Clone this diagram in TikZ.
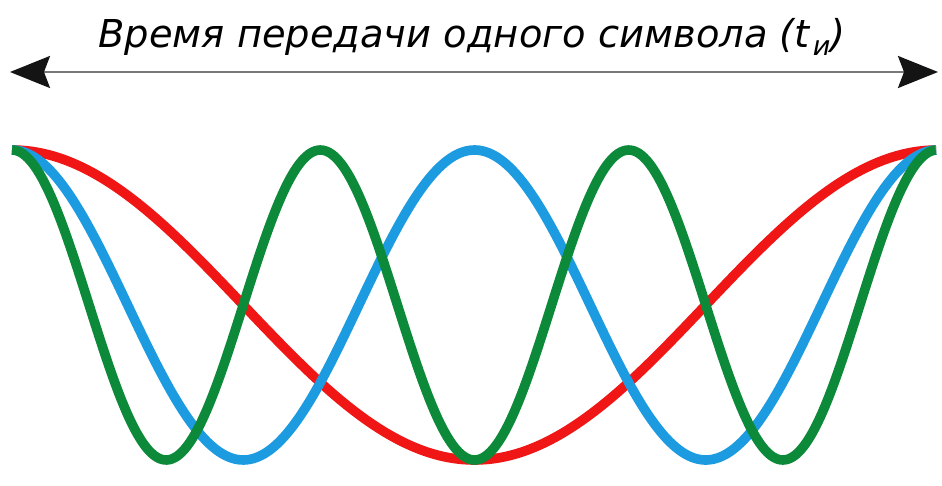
\documentclass[tikz,border=0pt]{standalone}
\usepackage{fontspec}
\setmainfont{DejaVu Sans}
\usetikzlibrary{arrows.meta}
\definecolor{cred}{RGB}{240,22,22}
\definecolor{cblue}{RGB}{28,155,225}
\definecolor{cgreen}{RGB}{12,138,58}
\definecolor{cgray}{RGB}{120,120,120}
\definecolor{chead}{RGB}{20,20,20}
\tikzset{
  wave/.style={line width=4.8pt, line join=round},
  span/.style={draw=cgray, line width=1.1pt,
    {Stealth[length=20pt,width=16pt,inset=3pt,color=chead]}-{Stealth[length=20pt,width=16pt,inset=3pt,color=chead]}},
  title/.style={font=\fontsize{19.2}{21}\selectfont\itshape, text=black, inner sep=0pt, anchor=base}
}
\begin{document}
\begin{tikzpicture}[x=0.5pt,y=-0.5pt]
\useasboundingbox (0,0) rectangle (942,486);
\fill[white] (0,0) rectangle (942,486);
\coordinate (L) at (10,72);
\coordinate (R) at (938,72);
\draw[span] (L) -- (R);
\node[title] (t) at (472,48) {Время передачи одного символа (t\kern1.5pt\raisebox{-4pt}{\fontsize{13.5}{14}\selectfont и})};
\draw[wave, cred] plot[domain=0:1, samples=200] ({12+925*\x}, {305-155*cos(360*\x)});
\draw[wave, cblue] plot[domain=0:1, samples=300] ({12+925*\x}, {305-155*cos(720*\x)});
\draw[wave, cgreen] plot[domain=0:1, samples=400] ({12+925*\x}, {305-155*cos(1080*\x)});
\end{tikzpicture}
\end{document}
